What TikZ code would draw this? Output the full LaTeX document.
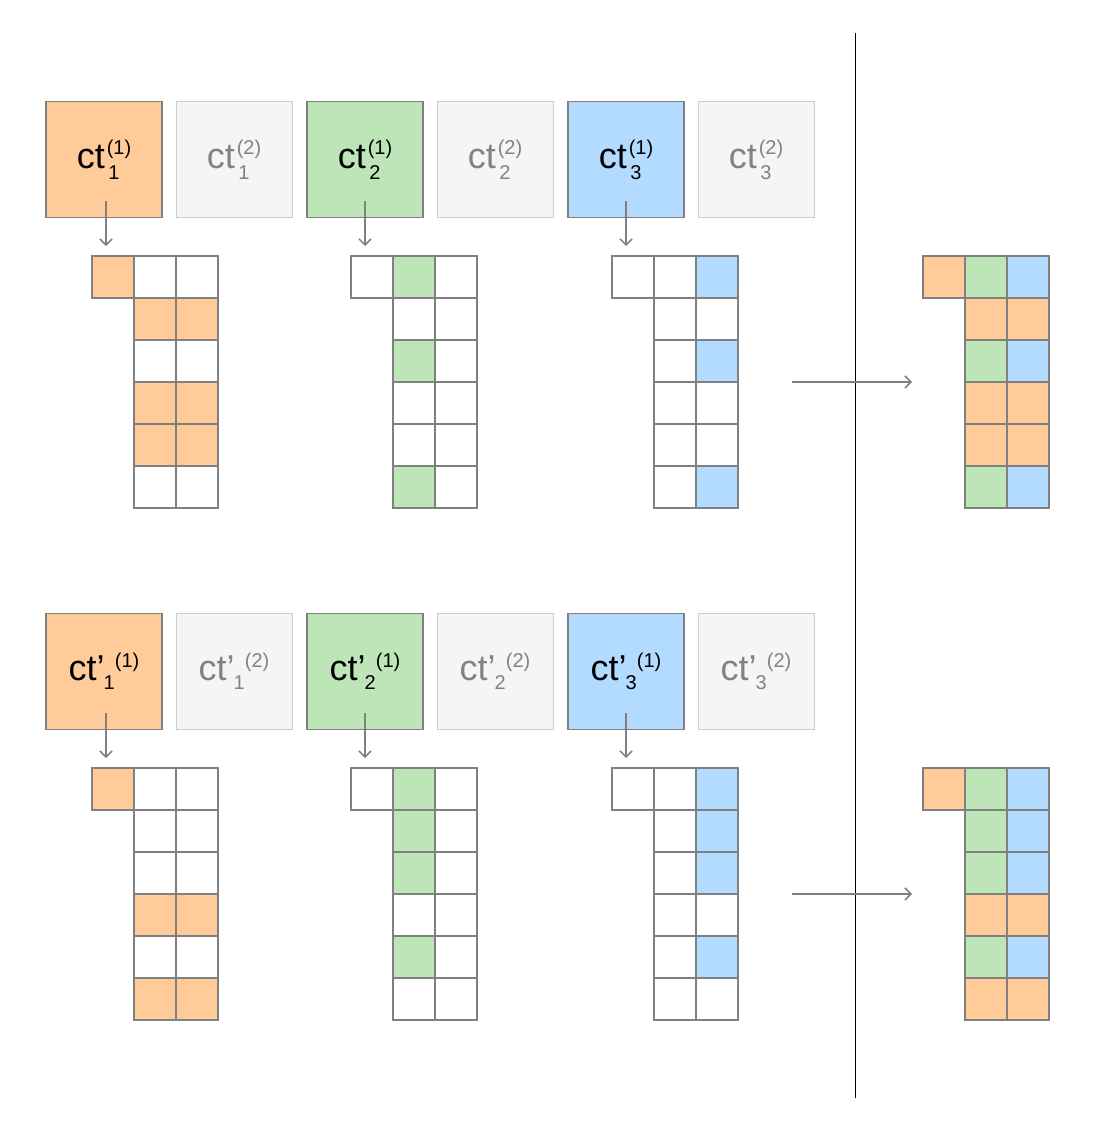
\documentclass[tikz,border=0pt]{standalone}
\usepackage{fontspec}
\setmainfont{Liberation Sans}
\usetikzlibrary{arrows.meta,calc}
\definecolor{cO}{RGB}{255,204,153}
\definecolor{cG}{RGB}{189,229,184}
\definecolor{cB}{RGB}{179,218,255}
\definecolor{cW}{RGB}{255,255,255}
\definecolor{lineg}{RGB}{128,128,128}
\definecolor{boxg}{RGB}{245,245,245}
\definecolor{boxb}{RGB}{204,204,204}
\definecolor{txtg}{RGB}{130,130,130}
\newcommand\scfont[1]{{\fontsize{20}{20}\selectfont #1}}
\newcommand\ctA[2]{ct\kern2pt\rlap{\kern1.5pt\raisebox{-11pt}{\scfont{#1}}}\raisebox{14pt}{\scfont{(#2)}}}
\newcommand\ctB[2]{ct’\kern-1pt\rlap{\raisebox{-9pt}{\scfont{#1}}}\hphantom{\scfont{#1}}\raisebox{13pt}{\scfont{(#2)}}}
\tikzset{
  box/.style={minimum size=116pt, inner sep=0pt, font=\fontsize{36}{36}\selectfont},
  cbox/.style={box, draw=lineg, line width=1.5pt},
  gbox/.style={box, draw=boxb, line width=1pt, fill=boxg, text=txtg},
  cell/.style={draw=lineg, line width=2.5pt, minimum size=42pt, inner sep=0pt, outer sep=0pt},
  arr/.style={draw=lineg, line width=1.5pt, -{Straight Barb[length=6pt,width=12pt]}},
  sep/.style={draw=black, line width=1pt}
}
\newcommand\mkgrid[4]{%
  \foreach \row [count=\r from 0] in {#4} {%
    \foreach \c [count=\k from 0] in \row {%
      \if\c N\else
        \node[cell, fill=c\c] (#1-\r-\k) at ({#2+21+42*\k},{#3+21+42*\r}) {};
      \fi
    }%
  }%
}
\begin{document}
\begin{tikzpicture}[x=1pt,y=-1pt]
\useasboundingbox (0,0) rectangle (1096,1121);
% separator
\coordinate (vt) at (855,33);
\coordinate (vb) at (855,1098);
\draw[sep] (vt) -- (vb);
% top boxes
\node[cbox, fill=cO] (a1) at (104,159.5) {\ctA{1}{1}};
\node[gbox] (a2) at (234,159.5) {\ctA{1}{2}};
\node[cbox, fill=cG] (a3) at (365,159.5) {\ctA{2}{1}};
\node[gbox] (a4) at (495,159.5) {\ctA{2}{2}};
\node[cbox, fill=cB] (a5) at (626,159.5) {\ctA{3}{1}};
\node[gbox] (a6) at (756,159.5) {\ctA{3}{2}};
% bottom boxes
\node[cbox, fill=cO] (b1) at (104,671.5) {\ctB{1}{1}};
\node[gbox] (b2) at (234,671.5) {\ctB{1}{2}};
\node[cbox, fill=cG] (b3) at (365,671.5) {\ctB{2}{1}};
\node[gbox] (b4) at (495,671.5) {\ctB{2}{2}};
\node[cbox, fill=cB] (b5) at (626,671.5) {\ctB{3}{1}};
\node[gbox] (b6) at (756,671.5) {\ctB{3}{2}};
% top grids
\mkgrid{T1}{92}{256}{{O,W,W},{N,O,O},{N,W,W},{N,O,O},{N,O,O},{N,W,W}}
\mkgrid{T2}{351}{256}{{W,G,W},{N,W,W},{N,G,W},{N,W,W},{N,W,W},{N,G,W}}
\mkgrid{T3}{612}{256}{{W,W,B},{N,W,W},{N,W,B},{N,W,W},{N,W,W},{N,W,B}}
\mkgrid{TR}{923}{256}{{O,G,B},{N,O,O},{N,G,B},{N,O,O},{N,O,O},{N,G,B}}
% bottom grids
\mkgrid{U1}{92}{768}{{O,W,W},{N,W,W},{N,W,W},{N,O,O},{N,W,W},{N,O,O}}
\mkgrid{U2}{351}{768}{{W,G,W},{N,G,W},{N,G,W},{N,W,W},{N,G,W},{N,W,W}}
\mkgrid{U3}{612}{768}{{W,W,B},{N,W,B},{N,W,B},{N,W,W},{N,W,B},{N,W,W}}
\mkgrid{UR}{923}{768}{{O,G,B},{N,G,B},{N,G,B},{N,O,O},{N,G,B},{N,O,O}}
% down arrows
\draw[arr] ($(a1.south)+(2,-17)$) -- ($(a1.south |- T1-0-0.north)+(2,-10)$);
\draw[arr] ($(a3.south)+(0,-17)$) -- ($(a3.south |- T2-0-0.north)+(0,-10)$);
\draw[arr] ($(a5.south)+(0,-17)$) -- ($(a5.south |- T3-0-0.north)+(0,-10)$);
\draw[arr] ($(b1.south)+(2,-17)$) -- ($(b1.south |- U1-0-0.north)+(2,-10)$);
\draw[arr] ($(b3.south)+(0,-17)$) -- ($(b3.south |- U2-0-0.north)+(0,-10)$);
\draw[arr] ($(b5.south)+(0,-17)$) -- ($(b5.south |- U3-0-0.north)+(0,-10)$);
% merge arrows
\coordinate (s1) at (792,382);
\coordinate (s2) at (792,894);
\draw[arr] (s1) -- ($(TR-2-1.south west)+(-53,0)$);
\draw[arr] (s2) -- ($(UR-2-1.south west)+(-53,0)$);
\end{tikzpicture}
\end{document}
